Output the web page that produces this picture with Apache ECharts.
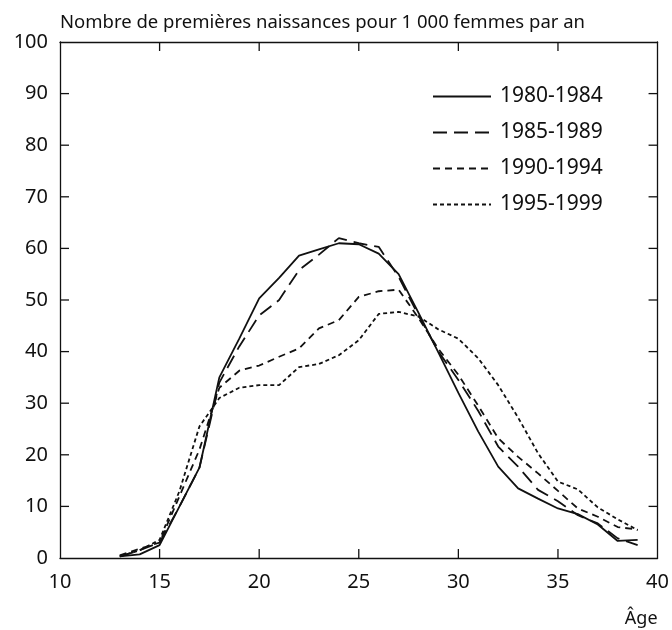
<!DOCTYPE html>
<html>
<head>
<meta charset="utf-8">
<script src="https://cdn.jsdelivr.net/npm/echarts@6/dist/echarts.min.js"></script>
<style>
  html, body { margin: 0; padding: 0; background: #fff; }
  #chart { width: 672px; height: 630px; }
</style>
</head>
<body>
<div id="chart"></div>
<script>
// âges (abscisse)
var ages = [13, 14, 15, 16, 17, 18, 19, 20, 21, 22, 23, 24, 25, 26, 27, 28, 29, 30, 31, 32, 33, 34, 35, 36, 37, 38, 39]
var s1980 = [0.3, 0.7, 2.5, 10, 17.5, 35, 42.5, 50.3, 54.3, 58.6, 59.8, 61, 60.8, 59, 55, 47.5, 39.8, 32, 24.5, 17.7, 13.5, 11.5, 9.6, 8.5, 6.5, 3.3, 3.5]
var s1985 = [0.3, 1.5, 3, 10, 17.5, 34, 41, 47, 50, 55.8, 58.8, 62, 61, 60.3, 54.5, 47, 40, 34.5, 28.5, 21.6, 17.7, 13.2, 11, 8.3, 6.7, 3.8, 2.5]
var s1990 = [0.5, 1.8, 3, 12, 21, 33, 36.3, 37.3, 39, 40.6, 44.5, 46.1, 50.6, 51.7, 52, 46.5, 40.5, 35.5, 29.5, 23.2, 19.6, 16.4, 13, 9.6, 8, 6, 5.5]
var s1995 = [0.3, 1.5, 3.5, 13, 25.5, 31, 33, 33.5, 33.5, 37, 37.6, 39.3, 42.2, 47.3, 47.7, 46.8, 44.3, 42.5, 38.7, 33.5, 27.2, 20.3, 14.8, 13.3, 9.8, 7.5, 5.4]
var seriesNames = ['1980-1984', '1985-1989', '1990-1994', '1995-1999']
var xTicks = [15, 20, 25, 30, 35]
var yTicks = [10, 20, 30, 40, 50, 60, 70, 80, 90]
var yTitle = 'Nombre de premières naissances pour 1 000 femmes par an'
var xTitle = 'Âge'

var font = 'Noto Sans'
var ink = '#111'
var tickLen = 9

function pairs(arr) {
  return arr.map(function(v, i) { return [ages[i], v] })
}

var dashes = ['solid', [14, 7], [7, 5], [4, 3]]
var allData = [s1980, s1985, s1990, s1995]

var series = allData.map(function(d, i) {
  return {
    name: seriesNames[i],
    type: 'line',
    data: pairs(d),
    symbol: 'none',
    showSymbol: false,
    lineStyle: { color: ink, width: 1.8, type: dashes[i] },
    itemStyle: { color: ink }
  }
})

var xRange = { min: 10, max: 40, interval: 5 }
var yRange = { min: 0, max: 100, interval: 10 }

// cadre
function axis(r, extra) {
  var ax = {
    type: 'value',
    min: r.min, max: r.max, interval: r.interval,
    axisLine: { show: true, onZero: false, lineStyle: { color: ink, width: 1.3 } },
    axisTick: { show: false },
    axisLabel: { show: false },
    splitLine: { show: false }
  }
  for (var k in extra) ax[k] = extra[k]
  return ax
}

var option = {
  animation: false,
  textStyle: { fontFamily: font },
  grid: { left: 60, right: 14, top: 42, bottom: 72 },
  legend: {
    data: seriesNames,
    orient: 'vertical',
    left: 432,
    top: 86,
    padding: 0,
    itemWidth: 58,
    itemHeight: 14,
    itemGap: 15,
    itemStyle: { opacity: 0 },
    textStyle: { fontFamily: font, fontSize: 21, color: ink, padding: [0, 0, 0, 4] }
  },
  xAxis: [
    axis(xRange, {
      position: 'bottom',
      axisLabel: { show: true, color: ink, fontSize: 20, margin: 14, fontFamily: font },
      name: xTitle,
      nameLocation: 'end',
      nameGap: 0,
      nameTextStyle: { color: ink, fontSize: 18, fontFamily: font, align: 'right', verticalAlign: 'top', padding: [52, 0, 0, 0] }
    }),
    axis(xRange, { position: 'top' })
  ],
  yAxis: [
    axis(yRange, {
      position: 'left',
      axisLabel: { show: true, color: ink, fontSize: 20, margin: 12, fontFamily: font },
      name: yTitle,
      nameLocation: 'end',
      nameGap: 10,
      nameTextStyle: { color: ink, fontSize: 18.5, fontFamily: font, align: 'left' }
    }),
    axis(yRange, { position: 'right' })
  ],
  series: series
}

var myChart = echarts.init(document.getElementById('chart'))
myChart.setOption(option)

// graduations intérieures, placées via les échelles des axes
function tick(x1, y1, x2, y2) {
  return {
    type: 'line',
    z: 50,
    shape: { x1: x1, y1: y1, x2: x2, y2: y2 },
    style: { stroke: ink, lineWidth: 1.3 }
  }
}
var xLeft = myChart.convertToPixel({ xAxisIndex: 0 }, xRange.min)
var xRight = myChart.convertToPixel({ xAxisIndex: 0 }, xRange.max)
var yBottom = myChart.convertToPixel({ yAxisIndex: 0 }, yRange.min)
var yTop = myChart.convertToPixel({ yAxisIndex: 0 }, yRange.max)
var ticks = []
xTicks.forEach(function(v) {
  var px = myChart.convertToPixel({ xAxisIndex: 0 }, v)
  ticks.push(tick(px, yBottom, px, yBottom - tickLen))
  ticks.push(tick(px, yTop, px, yTop + tickLen))
})
yTicks.forEach(function(v) {
  var py = myChart.convertToPixel({ yAxisIndex: 0 }, v)
  ticks.push(tick(xLeft, py, xLeft + tickLen, py))
  ticks.push(tick(xRight, py, xRight - tickLen, py))
})
myChart.setOption({ graphic: ticks })
</script>
</body>
</html>
